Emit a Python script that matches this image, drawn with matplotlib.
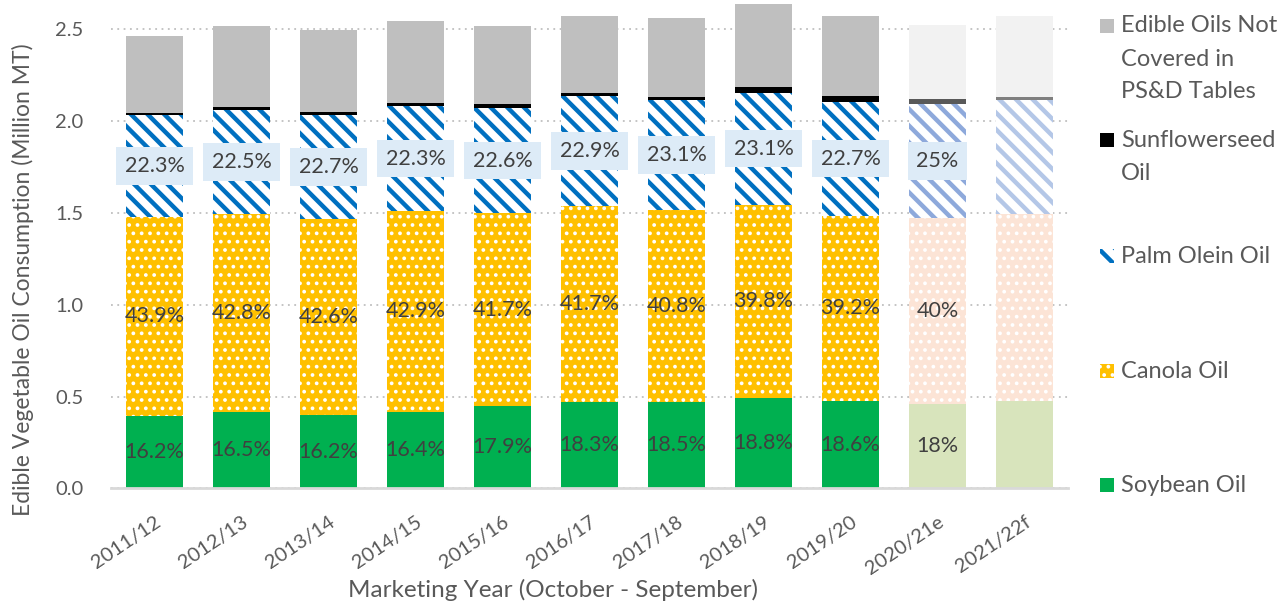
import matplotlib.pyplot as plt
from matplotlib.patches import Rectangle
import numpy as np

# Marketing years
years = ["2011/12", "2012/13", "2013/14", "2014/15", "2015/16", "2016/17",
         "2017/18", "2018/19", "2019/20", "2020/21e", "2021/22f"]

# Consumption by oil (million MT)
soybean = [0.395, 0.415, 0.402, 0.415, 0.449, 0.471, 0.471, 0.491, 0.478, 0.459, 0.478]
canola = [1.084, 1.080, 1.066, 1.098, 1.050, 1.068, 1.046, 1.055, 1.006, 1.013, 1.017]
palm_olein = [0.554, 0.565, 0.565, 0.567, 0.573, 0.597, 0.597, 0.610, 0.623, 0.622, 0.621]
sunflower = [0.011, 0.018, 0.018, 0.018, 0.021, 0.020, 0.020, 0.029, 0.029, 0.027, 0.018]
other_oils = [0.419, 0.441, 0.448, 0.450, 0.426, 0.419, 0.427, 0.452, 0.439, 0.404, 0.441]

# Share labels
soy_labels = ["16.2%", "16.5%", "16.2%", "16.4%", "17.9%", "18.3%", "18.5%", "18.8%", "18.6%", "18%", ""]
canola_labels = ["43.9%", "42.8%", "42.6%", "42.9%", "41.7%", "41.7%", "40.8%", "39.8%", "39.2%", "40%", ""]
palm_labels = ["22.3%", "22.5%", "22.7%", "22.3%", "22.6%", "22.9%", "23.1%", "23.1%", "22.7%", "25%", ""]

plt.rcParams['font.family'] = ['Lato', 'DejaVu Sans']

# colours: actual years, estimate, forecast
soy_col = ["#00B050"] * 9 + ["#D8E4BC", "#D8E4BC"]
canola_col = ["#FFC000"] * 9 + ["#FCE4D6", "#FCE4D6"]
palm_col = ["#0070C0"] * 9 + ["#8EA9DB", "#B4C7E7"]
sun_col = ["#000000"] * 9 + ["#595959", "#7F7F7F"]
other_col = ["#BFBFBF"] * 9 + ["#F2F2F2", "#F2F2F2"]

DOT_LW = 1.5
STRIPE_LW = 3.2

fig = plt.figure(figsize=(12.83, 6.03), dpi=100)
ax = fig.add_axes([0.0865, 0.19, 0.746, 0.81])

x = np.arange(len(years))
w = 0.655
soybean = np.array(soybean)
canola = np.array(canola)
palm_olein = np.array(palm_olein)
sunflower = np.array(sunflower)
other_oils = np.array(other_oils)

b1 = soybean
b2 = b1 + canola
b3 = b2 + palm_olein
b4 = b3 + sunflower

ax.bar(x, soybean, w, color=soy_col, zorder=2)

with plt.rc_context({'hatch.linewidth': DOT_LW}):
    ax.bar(x, canola, w, bottom=b1, color=canola_col, edgecolor="white",
           hatch="..", linewidth=0, zorder=2)
with plt.rc_context({'hatch.linewidth': STRIPE_LW}):
    ax.bar(x, palm_olein, w, bottom=b2, color="white", edgecolor=palm_col,
           hatch="\\\\", linewidth=0, zorder=2)

ax.bar(x, sunflower, w, bottom=b3, color=sun_col, zorder=2)
ax.bar(x, other_oils, w, bottom=b4, color=other_col, zorder=2)

# data labels
txt = "#404040"
for i in range(len(years)):
    if soy_labels[i]:
        ax.text(x[i], soybean[i] / 2, soy_labels[i], ha="center", va="center",
                fontsize=15.5, color=txt, zorder=4)
    if canola_labels[i]:
        ax.text(x[i], b1[i] + canola[i] / 2, canola_labels[i], ha="center", va="center",
                fontsize=15.5, color=txt, zorder=4)
    if palm_labels[i]:
        ax.text(x[i], b2[i] + palm_olein[i] / 2, palm_labels[i], ha="center", va="center",
                fontsize=15.5, color=txt, zorder=4,
                bbox=dict(boxstyle="square,pad=0.4", facecolor="#DDEBF7", edgecolor="none"))

ax.set_xlim(-0.5, len(years) - 0.5)
ax.set_ylim(0, 2.66)
ax.set_yticks(np.arange(0, 2.51, 0.5))
ax.set_yticklabels([f"{v:.1f}" for v in np.arange(0, 2.51, 0.5)])
ax.set_xticks(x)
ax.set_xticklabels(years, rotation=34, ha="right", va="top", rotation_mode="anchor")
ax.tick_params(axis="both", length=0, labelcolor="#595959")
ax.tick_params(axis="x", pad=18, labelsize=14.5)
ax.tick_params(axis="y", pad=20, labelsize=14.5)

ax.grid(axis="y", linestyle=(0, (1, 2.5)), color="#BFBFBF", linewidth=1.3, zorder=0)
ax.set_axisbelow(True)
for s in ["top", "right", "left"]:
    ax.spines[s].set_visible(False)
ax.spines["bottom"].set_color("#D9D9D9")
ax.spines["bottom"].set_linewidth(2)

ax.set_ylabel("Edible Vegetable Oil Consumption (Million MT)", fontsize=16.5, color="#595959")
ax.yaxis.set_label_coords(-0.08, 0.427)
ax.set_xlabel("Marketing Year (October - September)", fontsize=17.5, color="#595959")
ax.xaxis.set_label_coords(0.462, -0.185)

# legend drawn by hand to keep Excel's spacing
W, H = 1283.0, 603.0
legend_items = [
    (["Edible Oils Not", "Covered in", "PS&D Tables"], 26, dict(facecolor="#BFBFBF")),
    (["Sunflowerseed", "Oil"], 140, dict(facecolor="#000000")),
    (["Palm Olein Oil"], 256, dict(facecolor="white", edgecolor="#0070C0", hatch="\\\\", linewidth=0)),
    (["Canola Oil"], 371, dict(facecolor="#FFC000", edgecolor="white", hatch="..", linewidth=0)),
    (["Soybean Oil"], 485, dict(facecolor="#00B050")),
]
for lines, yc, style in legend_items:
    lw = STRIPE_LW if style.get("hatch") == "\\\\" else DOT_LW
    with plt.rc_context({'hatch.linewidth': lw}):
        r = Rectangle((1100 / W, 1 - (yc + 7) / H), 14 / W, 14 / H,
                      transform=fig.transFigure, **style)
    fig.add_artist(r)
    for k, line in enumerate(lines):
        fig.text(1121 / W, 1 - (yc + k * 33) / H, line, ha="left", va="center",
                 fontsize=17, color="#595959")

plt.savefig("out.png", dpi=100)
